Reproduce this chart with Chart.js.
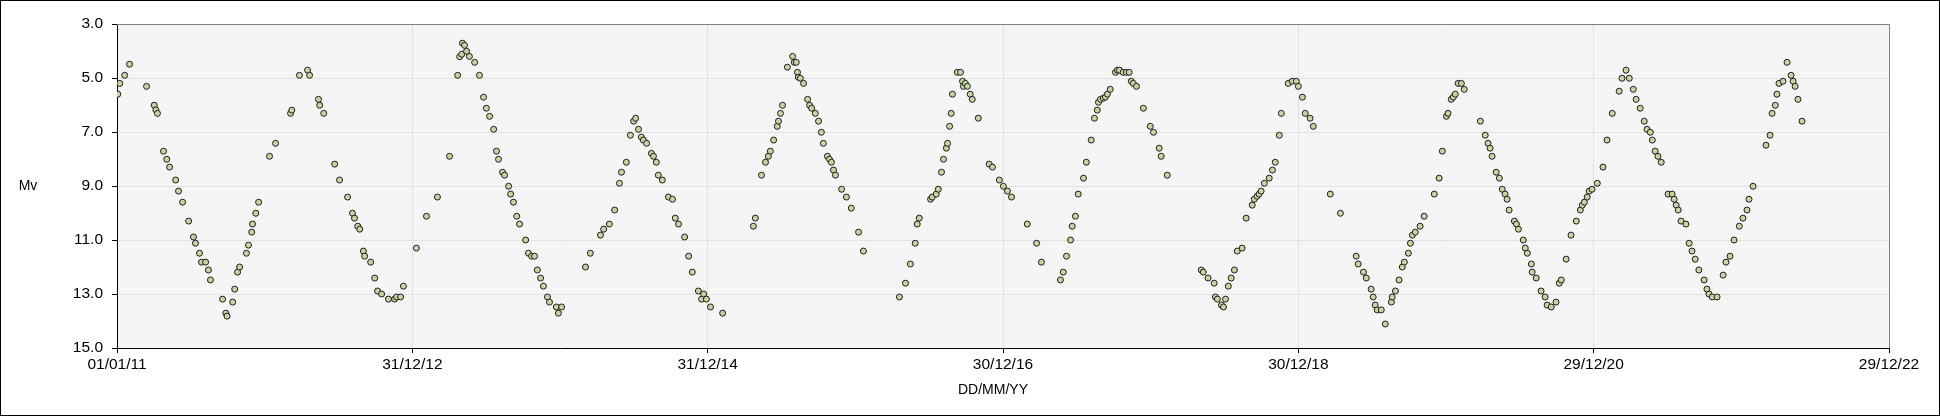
<!DOCTYPE html>
<html>
<head>
<meta charset="utf-8">
<title>Mv light curve</title>
<script src="https://cdn.jsdelivr.net/npm/chart.js@4/dist/chart.umd.min.js"></script>
<style>
  html, body { margin: 0; padding: 0; background: #fff; }
  canvas { display: block; }
</style>
</head>
<body>
<canvas id="lc-chart" width="1940" height="416"></canvas>
<script>
// =============================================================================
// Light curve data - day offset from 01/01/2011 and visual magnitude (Mv)
// =============================================================================
const startDate = Date.UTC(2011, 0, 1);

const days = [
    2, 7, 19, 31, 73, 92, 96, 100, 115, 123, 130, 145, 152, 162, 177, 189, 194, 204, 209, 219,
    226, 231, 261, 269, 272, 286, 291, 298, 303, 320, 325, 333, 335, 343, 350, 377, 392, 429, 432, 451,
    471, 476, 498, 501, 511, 538, 550, 570, 582, 587, 595, 600, 609, 612, 627, 637, 644, 654, 671, 686,
    691, 701, 708, 740, 765, 792, 822, 842, 847, 852, 854, 859, 864, 871, 884, 896, 906, 913, 921, 931,
    938, 943, 953, 958, 968, 973, 980, 988, 995, 1010, 1017, 1025, 1032, 1039, 1047, 1054, 1064, 1069, 1086, 1091,
    1099, 1158, 1170, 1195, 1203, 1217, 1230, 1242, 1247, 1259, 1269, 1277, 1282, 1289, 1296, 1301, 1309, 1321, 1326, 1333,
    1338, 1348, 1363, 1373, 1380, 1388, 1403, 1413, 1422, 1437, 1445, 1450, 1457, 1467, 1497, 1573, 1578, 1593, 1603, 1610,
    1615, 1623, 1632, 1635, 1640, 1645, 1657, 1670, 1674, 1679, 1682, 1684, 1689, 1697, 1707, 1712, 1717, 1726, 1734, 1741,
    1746, 1756, 1761, 1766, 1771, 1776, 1791, 1803, 1815, 1833, 1845, 1934, 1949, 1961, 1973, 1978, 1983, 2011, 2015, 2025,
    2030, 2038, 2043, 2050, 2053, 2058, 2062, 2065, 2077, 2085, 2090, 2092, 2097, 2102, 2109, 2114, 2129, 2156, 2164, 2181,
    2191, 2201, 2211, 2250, 2273, 2285, 2332, 2339, 2347, 2357, 2361, 2369, 2376, 2389, 2396, 2408, 2416, 2423, 2426, 2431,
    2438, 2443, 2448, 2455, 2468, 2473, 2478, 2487, 2495, 2502, 2507, 2512, 2520, 2537, 2554, 2562, 2576, 2581, 2596, 2680,
    2685, 2697, 2712, 2715, 2720, 2730, 2735, 2740, 2747, 2754, 2762, 2769, 2781, 2791, 2806, 2811, 2818, 2823, 2828, 2836,
    2848, 2856, 2863, 2873, 2878, 2895, 2905, 2915, 2920, 2930, 2937, 2949, 2957, 2999, 3024, 3063, 3068, 3081, 3088, 3100,
    3105, 3110, 3115, 3125, 3135, 3150, 3152, 3160, 3169, 3177, 3182, 3192, 3197, 3202, 3209, 3221, 3231, 3256, 3268, 3276,
    3286, 3290, 3298, 3303, 3308, 3315, 3323, 3330, 3370, 3382, 3389, 3394, 3399, 3409, 3417, 3424, 3431, 3436, 3441, 3454,
    3459, 3464, 3476, 3481, 3486, 3496, 3498, 3508, 3520, 3530, 3535, 3545, 3557, 3565, 3570, 3582, 3594, 3607, 3617, 3622,
    3627, 3634, 3639, 3646, 3659, 3673, 3683, 3696, 3713, 3720, 3730, 3738, 3748, 3755, 3765, 3775, 3782, 3790, 3795, 3802,
    3809, 3817, 3834, 3844, 3849, 3854, 3859, 3866, 3878, 3886, 3893, 3901, 3910, 3923, 3930, 3935, 3943, 3955, 3970, 3977,
    3987, 3997, 4010, 4019, 4029, 4034, 4044, 4076, 4086, 4091, 4099, 4103, 4108, 4118, 4128, 4138, 4143, 4148, 4155, 4165
];

const mags = [
    5.60, 5.20, 4.90, 4.49, 5.31, 6.01, 6.18, 6.31, 7.71, 8.01, 8.30, 8.78, 9.19, 9.60, 10.30, 10.89, 11.12, 11.49, 11.82, 11.82,
    12.11, 12.48, 13.19, 13.71, 13.82, 13.30, 12.82, 12.19, 12.00, 11.49, 11.19, 10.71, 10.41, 10.01, 9.60, 7.90, 7.42, 6.31, 6.19, 4.90,
    4.71, 4.90, 5.79, 6.01, 6.31, 8.19, 8.78, 9.41, 10.01, 10.19, 10.49, 10.60, 11.41, 11.60, 11.82, 12.41, 12.89, 13.00, 13.19, 13.19,
    13.11, 13.11, 12.71, 11.30, 10.12, 9.41, 7.90, 4.90, 4.21, 4.12, 3.71, 3.79, 4.01, 4.20, 4.42, 4.90, 5.71, 6.12, 6.42, 6.90,
    7.71, 8.01, 8.49, 8.60, 9.01, 9.30, 9.60, 10.12, 10.41, 11.00, 11.49, 11.60, 11.60, 12.11, 12.41, 12.71, 13.11, 13.30, 13.48, 13.71,
    13.48, 12.00, 11.49, 10.82, 10.60, 10.41, 9.89, 8.90, 8.49, 8.12, 7.12, 6.60, 6.49, 6.90, 7.19, 7.30, 7.42, 7.79, 7.90, 8.12,
    8.60, 8.78, 9.41, 9.49, 10.19, 10.41, 10.89, 11.60, 12.19, 12.89, 13.19, 13.00, 13.19, 13.48, 13.71, 10.49, 10.19, 8.60, 8.12, 7.90,
    7.71, 7.30, 6.79, 6.60, 6.31, 6.01, 4.60, 4.20, 4.42, 4.42, 4.79, 4.97, 5.01, 5.20, 5.79, 6.01, 6.12, 6.31, 6.60, 7.01,
    7.42, 7.90, 8.01, 8.12, 8.41, 8.60, 9.12, 9.41, 9.82, 10.71, 11.41, 13.11, 12.60, 11.89, 11.12, 10.41, 10.19, 9.49, 9.41, 9.30,
    9.12, 8.49, 8.01, 7.60, 7.42, 6.79, 6.31, 5.60, 4.79, 4.79, 5.12, 5.31, 5.20, 5.31, 5.60, 5.79, 6.49, 8.19, 8.30, 8.78,
    9.01, 9.19, 9.41, 10.41, 11.12, 11.82, 12.48, 12.19, 11.60, 11.00, 10.49, 10.12, 9.30, 8.71, 8.12, 7.30, 6.49, 6.19, 5.90, 5.79,
    5.75, 5.71, 5.60, 5.42, 4.79, 4.71, 4.71, 4.79, 4.79, 4.79, 5.12, 5.20, 5.31, 6.12, 6.79, 7.01, 7.60, 7.90, 8.60, 12.11,
    12.19, 12.41, 12.60, 13.11, 13.19, 13.41, 13.48, 13.19, 12.71, 12.41, 12.11, 11.41, 11.30, 10.19, 9.71, 9.49, 9.38, 9.30, 9.19, 8.90,
    8.71, 8.41, 8.12, 7.12, 6.31, 5.20, 5.12, 5.12, 5.31, 5.71, 6.31, 6.49, 6.79, 9.30, 10.01, 11.60, 11.89, 12.19, 12.41, 12.82,
    13.11, 13.41, 13.59, 13.59, 14.11, 13.30, 13.11, 12.89, 12.48, 12.00, 11.82, 11.49, 11.12, 10.82, 10.71, 10.49, 10.12, 9.30, 8.71, 7.71,
    6.42, 6.31, 5.79, 5.71, 5.60, 5.20, 5.20, 5.42, 6.60, 7.12, 7.42, 7.60, 7.90, 8.49, 8.71, 9.12, 9.30, 9.49, 9.89, 10.30,
    10.41, 10.60, 11.00, 11.30, 11.49, 11.89, 12.19, 12.41, 12.89, 13.11, 13.41, 13.48, 13.30, 12.60, 12.48, 11.71, 10.82, 10.30, 9.89, 9.71,
    9.60, 9.41, 9.19, 9.12, 8.90, 8.30, 7.30, 6.31, 5.49, 5.01, 4.71, 5.01, 5.42, 5.79, 6.12, 6.60, 6.90, 7.01, 7.30, 7.71,
    7.90, 8.12, 9.30, 9.30, 9.49, 9.71, 9.89, 10.30, 10.41, 11.12, 11.41, 11.71, 12.11, 12.48, 12.82, 13.00, 13.11, 13.11, 12.30, 11.82,
    11.60, 11.00, 10.49, 10.19, 9.89, 9.49, 9.01, 7.49, 7.12, 6.31, 6.01, 5.60, 5.20, 5.12, 4.42, 4.90, 5.12, 5.31, 5.79, 6.60
];

// Axis ranges (x in days from 01/01/11, ticks every 730 days)
const xRange = [0, 4380];
const xStep = 730;
const yRange = [3, 15];
const yStep = 2;

// =============================================================================
// Helpers
// =============================================================================
const pad2 = (n) => String(n).padStart(2, '0');

function formatDay(day) {
    const d = new Date(startDate + day * 86400000);
    return pad2(d.getUTCDate()) + '/' + pad2(d.getUTCMonth() + 1) + '/' + pad2(d.getUTCFullYear() % 100);
}

// Plot area in page pixels (as in the reference)
const AREA = { left: 117, top: 24, right: 1889, bottom: 348 };
const CANVAS_W = 1940;
const CANVAS_H = 416;

// Background, borders and the two axis labels (both drawn horizontally)
const framePlugin = {
    id: 'frame',
    beforeDraw(chart) {
        const { ctx, chartArea } = chart;
        ctx.save();
        ctx.fillStyle = '#ffffff';
        ctx.fillRect(0, 0, CANVAS_W, CANVAS_H);
        ctx.fillStyle = '#f5f5f5';
        ctx.fillRect(chartArea.left, chartArea.top, chartArea.right - chartArea.left, chartArea.bottom - chartArea.top);
        ctx.restore();
    },
    afterDraw(chart) {
        const { ctx, chartArea } = chart;
        ctx.save();
        // top + right edges of the plot area are grey
        ctx.strokeStyle = '#808080';
        ctx.lineWidth = 1;
        ctx.beginPath();
        ctx.moveTo(chartArea.left, Math.round(chartArea.top) + 0.5);
        ctx.lineTo(Math.round(chartArea.right) + 0.5, Math.round(chartArea.top) + 0.5);
        ctx.lineTo(Math.round(chartArea.right) + 0.5, chartArea.bottom);
        ctx.stroke();

        // outer frame
        ctx.strokeStyle = '#000000';
        ctx.strokeRect(0.5, 0.5, CANVAS_W - 1, CANVAS_H - 1);

        // axis titles
        ctx.fillStyle = '#000000';
        ctx.font = "14px 'Liberation Sans', Arial, sans-serif";
        ctx.textAlign = 'center';
        ctx.textBaseline = 'middle';
        ctx.fillText('Mv', 28, 186);
        ctx.fillText('DD/MM/YY', 993, 390);
        ctx.restore();
    }
};

// =============================================================================
// Chart
// =============================================================================
const points = days.map((d, i) => ({ x: d, y: mags[i] }));
const tickFont = { family: "'Liberation Sans', Arial, sans-serif", size: 15.5 };

new Chart(document.getElementById('lc-chart'), {
    type: 'scatter',
    data: {
        datasets: [{
            label: 'Mv',
            data: points,
            pointRadius: 3,
            pointHoverRadius: 3,
            pointBorderWidth: 1,
            pointBorderColor: '#1e1e1e',
            pointBackgroundColor: '#c4d5a2'
        }]
    },
    options: {
        responsive: false,
        animation: false,
        devicePixelRatio: 1,
        layout: {
            padding: { left: 0, top: AREA.top, right: CANVAS_W - AREA.right, bottom: 0 }
        },
        plugins: {
            legend: { display: false },
            tooltip: { enabled: false }
        },
        scales: {
            x: {
                type: 'linear',
                min: xRange[0],
                max: xRange[1],
                afterFit: (scale) => { scale.height = CANVAS_H - AREA.bottom; },
                ticks: {
                    stepSize: xStep,
                    color: '#000',
                    font: tickFont,
                    padding: 2,
                    maxRotation: 0,
                    callback: (value) => formatDay(value)
                },
                grid: { color: '#e2e2e2', tickColor: '#000', tickLength: 5 },
                border: { color: '#000', width: 1 }
            },
            y: {
                reverse: true,
                min: yRange[0],
                max: yRange[1],
                afterFit: (scale) => { scale.width = AREA.left; },
                ticks: {
                    stepSize: yStep,
                    color: '#000',
                    font: tickFont,
                    padding: 9,
                    callback: (value) => value.toFixed(1)
                },
                grid: { color: '#e2e2e2', tickColor: '#000', tickLength: 5 },
                border: { color: '#000', width: 1 }
            }
        }
    },
    plugins: [framePlugin]
});
</script>
</body>
</html>
